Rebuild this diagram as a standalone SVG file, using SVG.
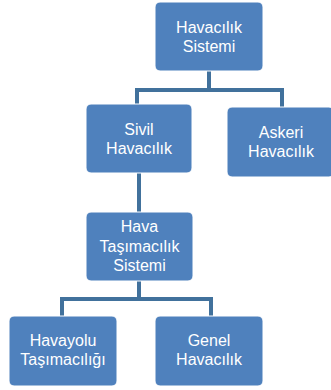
<svg xmlns="http://www.w3.org/2000/svg" width="331" height="390" viewBox="0 0 331 390">
<style>
.node rect{fill:#4f81bd;stroke:#ffffff;stroke-width:1}
.node text{fill:#ffffff;font-family:"Liberation Sans",Arial,sans-serif;font-size:16px;text-anchor:middle}
.conn path{fill:none;stroke:#41719c;stroke-width:4}
</style>
<rect width="331" height="390" fill="#ffffff"/>
<g class="conn" id="connectors">
<path d="M209 71 V90 M137 90 H282 M137 88 V104 M282 88 V107"/>
<path d="M139 173 V212"/>
<path d="M139 281 V299 M62 299 H211 M62 297 V316 M211 297 V316"/>
</g>
<g class="node" id="havacilik-sistemi">
<rect x="155" y="2" width="108" height="69" rx="5"/>
<text x="209" y="33">Havacılık</text>
<text x="209" y="52">Sistemi</text>
</g>
<g class="node" id="sivil-havacilik">
<rect x="86" y="104" width="106" height="69" rx="5"/>
<text x="139" y="135">Sivil</text>
<text x="139" y="154">Havacılık</text>
</g>
<g class="node" id="askeri-havacilik">
<rect x="227" y="107" width="107" height="70" rx="5"/>
<text x="281" y="138">Askeri</text>
<text x="281" y="157">Havacılık</text>
</g>
<g class="node" id="hava-tasimacilik-sistemi">
<rect x="86" y="212" width="107" height="69" rx="5"/>
<text x="139.5" y="232">Hava</text>
<text x="139.5" y="252">Taşımacılık</text>
<text x="139.5" y="271">Sistemi</text>
</g>
<g class="node" id="havayolu-tasimaciligi">
<rect x="9" y="316" width="108" height="70" rx="5"/>
<text x="63" y="346">Havayolu</text>
<text x="63" y="365">Taşımacılığı</text>
</g>
<g class="node" id="genel-havacilik">
<rect x="155" y="316" width="108" height="70" rx="5"/>
<text x="209" y="346">Genel</text>
<text x="209" y="365">Havacılık</text>
</g>
</svg>
